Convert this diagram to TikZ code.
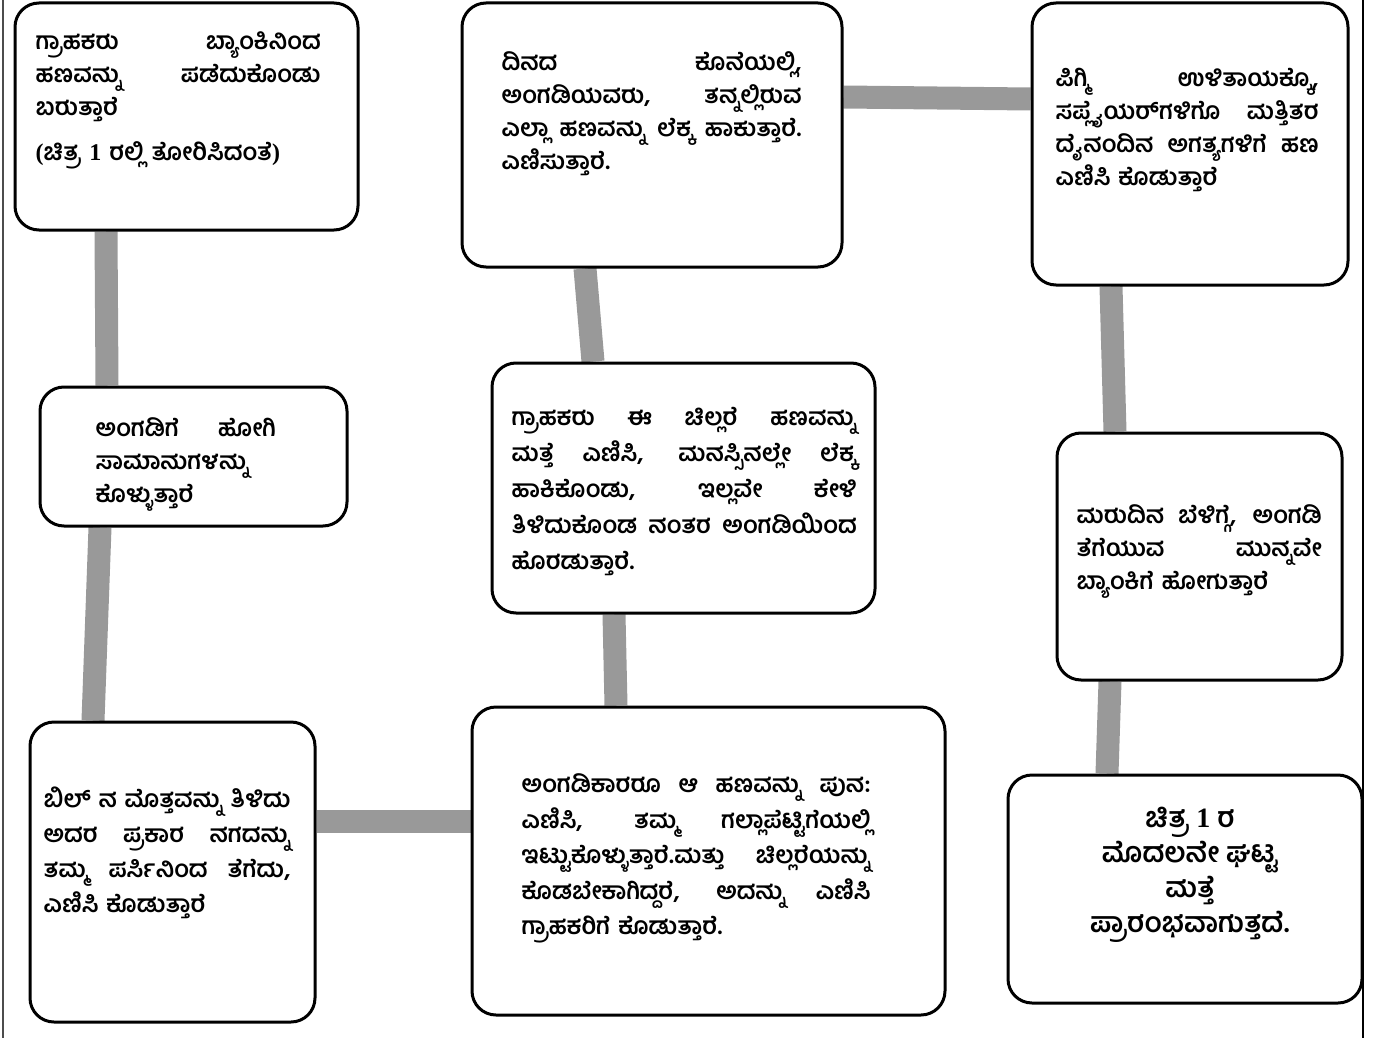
\documentclass[tikz,border=0pt]{standalone}
\usepackage{fontspec}
\setmainfont{Hind Mysuru}[Script=Kannada]
\newfontfamily\numfont{Liberation Serif}
\usetikzlibrary{positioning, backgrounds}
\definecolor{linkgray}{RGB}{153,153,153}
% one justified line of a box
\newcommand{\jl}[1]{\makebox[\hsize][s]{\spaceskip=\fontdimen2\font plus 1fil\relax\xspaceskip=\spaceskip #1}}

\begin{document}
\begin{tikzpicture}[x=1pt, y=-1pt]

	% --- STYLES ---
	\tikzstyle{stagebox} = [rectangle, rounded corners=24pt, draw=black, line width=3pt, fill=white]
	\tikzstyle{stagetext} = [inner sep=0pt, align=left, font=\fontsize{24}{33}\selectfont\bfseries]
	\tikzstyle{flowlink} = [line width=23pt, draw=linkgray]

	\useasboundingbox (0,0) rectangle (1376,1038);

	% --- BOXES ---

	% 1. Bank
	\node (bank) [stagebox, minimum width=343pt, minimum height=227pt] at (186.5,116.5) {};
	\node (bank-t) [stagetext, text width=285pt, anchor=north west] at ([xshift=22pt, yshift=-30pt]bank.north west) {
		\jl{ಗ್ರಾಹಕರು ಬ್ಯಾಂಕಿನಿಂದ}\\
		\jl{ಹಣವನ್ನು ಪಡೆದುಕೊಂಡು}\\
		ಬರುತ್ತಾರೆ\\[12pt]
		{\numfont(}ಚಿತ್ರ {\numfont 1} ರಲ್ಲಿ ತೋರಿಸಿದಂತೆ{\numfont)}
	};

	% 2. Shop
	\node (shop) [stagebox, minimum width=307pt, minimum height=139pt] at (193.5,456.5) {};
	\node (shop-t) [stagetext, text width=180pt, anchor=north west] at ([xshift=57pt, yshift=-32pt]shop.north west) {
		\jl{ಅಂಗಡಿಗೆ ಹೋಗಿ}\\
		ಸಾಮಾನುಗಳನ್ನು\\
		ಕೊಳ್ಳುತ್ತಾರೆ
	};

	% 3. Bill
	\node (bill) [stagebox, minimum width=285pt, minimum height=300pt] at (172.5,872) {};
	\node (bill-t) [stagetext, text width=247pt, anchor=north west, font=\fontsize{24}{35}\selectfont\bfseries] at ([xshift=15pt, yshift=-66pt]bill.north west) {
		\jl{ಬಿಲ್ ನ ಮೊತ್ತವನ್ನು ತಿಳಿದು}\\
		\jl{ಅದರ ಪ್ರಕಾರ ನಗದನ್ನು}\\
		\jl{ತಮ್ಮ ಪರ್ಸಿನಿಂದ ತೆಗೆದು,}\\
		ಎಣಿಸಿ ಕೊಡುತ್ತಾರೆ
	};

	% 4. Shopkeeper
	\node (owner) [stagebox, minimum width=473pt, minimum height=308pt] at (708.5,861) {};
	\node (owner-t) [stagetext, text width=349pt, anchor=north west, font=\fontsize{24}{35.5}\selectfont\bfseries] at ([xshift=51pt, yshift=-68pt]owner.north west) {
		\jl{ಅಂಗಡಿಕಾರರೂ ಆ ಹಣವನ್ನು ಪುನ:}\\
		\jl{ಎಣಿಸಿ, ತಮ್ಮ ಗಲ್ಲಾಪೆಟ್ಟಿಗೆಯಲ್ಲಿ}\\
		\jl{ಇಟ್ಟುಕೊಳ್ಳುತ್ತಾರೆ.ಮತ್ತು ಚಿಲ್ಲರೆಯನ್ನು}\\
		\jl{ಕೊಡಬೇಕಾಗಿದ್ದರೆ, ಅದನ್ನು ಎಣಿಸಿ}\\
		ಗ್ರಾಹಕರಿಗೆ ಕೊಡುತ್ತಾರೆ.
	};

	% 5. Change
	\node (change) [stagebox, minimum width=383pt, minimum height=250pt] at (683.5,488) {};
	\node (change-t) [stagetext, text width=345pt, anchor=north west, font=\fontsize{24}{36}\selectfont\bfseries] at ([xshift=21pt, yshift=-46pt]change.north west) {
		\jl{ಗ್ರಾಹಕರು ಈ ಚಿಲ್ಲರೆ ಹಣವನ್ನು}\\
		\jl{ಮತ್ತೆ ಎಣಿಸಿ, ಮನಸ್ಸಿನಲ್ಲೇ ಲೆಕ್ಕ}\\
		\jl{ಹಾಕಿಕೊಂಡು, ಇಲ್ಲವೇ ಕೇಳಿ}\\
		\jl{ತಿಳಿದುಕೊಂಡ ನಂತರ ಅಂಗಡಿಯಿಂದ}\\
		ಹೊರಡುತ್ತಾರೆ.
	};

	% 6. Day end
	\node (dayend) [stagebox, minimum width=380pt, minimum height=264pt] at (652,135) {};
	\node (dayend-t) [stagetext, text width=300pt, anchor=north west] at ([xshift=41pt, yshift=-50pt]dayend.north west) {
		\jl{ದಿನದ ಕೊನೆಯಲ್ಲಿ,}\\
		\jl{ಅಂಗಡಿಯವರು, ತನ್ನಲ್ಲಿರುವ}\\
		\jl{ಎಲ್ಲಾ ಹಣವನ್ನು ಲೆಕ್ಕ ಹಾಕುತ್ತಾರೆ.}\\
		ಎಣಿಸುತ್ತಾರೆ.
	};

	% 7. Spending
	\node (spend) [stagebox, minimum width=316pt, minimum height=282pt] at (1190,144) {};
	\node (spend-t) [stagetext, text width=263pt, anchor=north west] at ([xshift=25pt, yshift=-66pt]spend.north west) {
		\jl{ಪಿಗ್ಮಿ ಉಳಿತಾಯಕ್ಕೊ,}\\
		\jl{ಸಪ್ಲೈಯರ್^^^^200cಗಳಿಗೊ ಮತ್ತಿತರ}\\
		\jl{ದೈನಂದಿನ ಅಗತ್ಯಗಳಿಗೆ ಹಣ}\\
		ಎಣಿಸಿ ಕೊಡುತ್ತಾರೆ
	};

	% 8. Next day
	\node (nextday) [stagebox, minimum width=285pt, minimum height=247pt] at (1199.5,556.5) {};
	\node (nextday-t) [stagetext, text width=245pt, anchor=north west] at ([xshift=21pt, yshift=-73pt]nextday.north west) {
		\jl{ಮರುದಿನ ಬೆಳಿಗ್ಗೆ, ಅಂಗಡಿ}\\
		\jl{ತೆಗೆಯುವ ಮುನ್ನವೇ}\\
		ಬ್ಯಾಂಕಿಗೆ ಹೋಗುತ್ತಾರೆ
	};

	% 9. Repeat
	\node (repeat) [stagebox, minimum width=354pt, minimum height=228pt] at (1185,889) {};
	\node (repeat-t) [stagetext, align=center, anchor=north, font=\fontsize{28}{35}\selectfont\bfseries] at ([xshift=5pt, yshift=-33pt]repeat.north) {
		ಚಿತ್ರ {\numfont 1} ರ\\
		ಮೊದಲನೇ ಘಟ್ಟ\\
		ಮತ್ತೆ\\
		ಪ್ರಾರಂಭವಾಗುತ್ತದೆ.
	};

	% --- LINKS ---
	\begin{pgfonlayer}{background}
		\draw [flowlink] ([xshift=-80.5pt]bank.south) -- ([xshift=-86.5pt]shop.north);
		\draw [flowlink] ([xshift=-93.5pt]shop.south) -- ([xshift=-79.5pt]bill.north);
		\draw [flowlink] ([yshift=51pt]bill.east) -- ([yshift=40pt]owner.west);
		\draw [flowlink] ([xshift=-92.5pt]owner.north) -- ([xshift=-69.5pt]change.south);
		\draw [flowlink] ([xshift=-90.5pt]change.north) -- ([xshift=-67pt]dayend.south);
		\draw [flowlink] ([yshift=38pt]dayend.east) -- ([yshift=45pt]spend.west);
		\draw [flowlink] ([xshift=-79pt]spend.south) -- ([xshift=-84.5pt]nextday.north);
		\draw [flowlink] ([xshift=-89.5pt]nextday.south) -- ([xshift=-78pt]repeat.north);
	\end{pgfonlayer}

	% --- PAGE EDGES ---
	\draw [line width=2pt, black!70] (3,0) -- (3,1038);
	\draw [line width=1.2pt] (1363,0) -- (1363,1038);

\end{tikzpicture}
\end{document}
